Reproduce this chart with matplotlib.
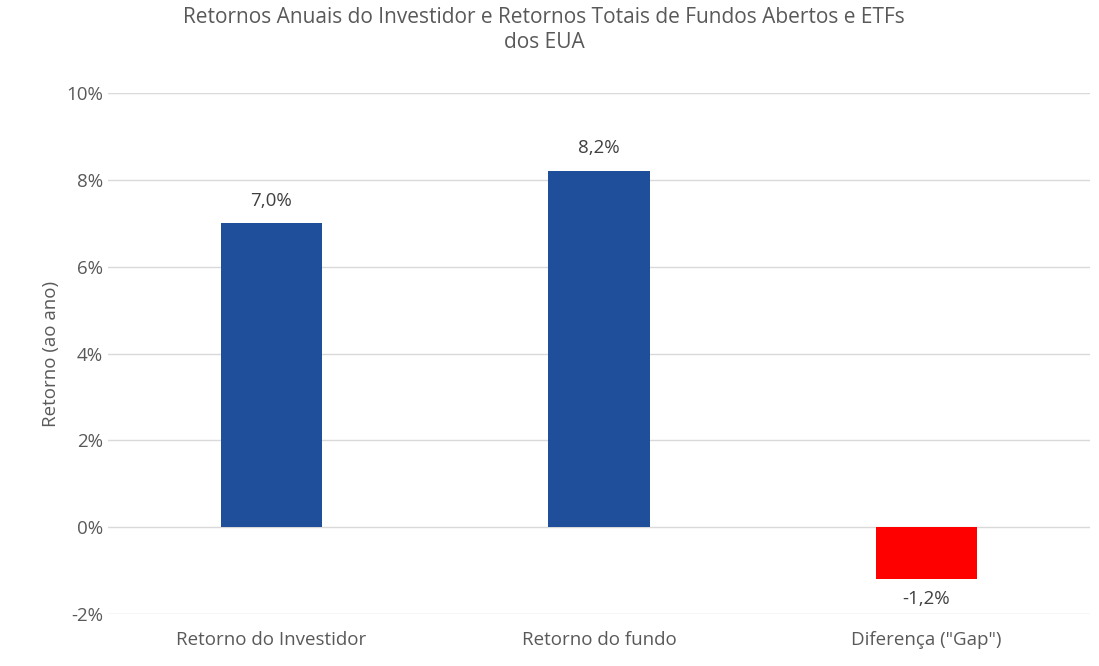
import matplotlib.pyplot as plt

categories = ['Retorno do Investidor', 'Retorno do fundo', 'Diferença ("Gap")']
values = [7.0, 8.2, -1.2]
colors = ['#1F4E9B', '#1F4E9B', '#FF0000']
yticks = [-2, 0, 2, 4, 6, 8, 10]

plt.rcParams['font.family'] = ['Open Sans', 'DejaVu Sans']
txt = '#595959'

fig = plt.figure(figsize=(10.99, 6.66), dpi=100)
ax = fig.add_axes([0.098, 0.078, 0.894, 0.782])
x = range(len(categories))
bars = ax.bar(x, values, width=0.31, color=colors, zorder=3)
for b, v in zip(bars, values):
    lab = f'{v:.1f}%'.replace('.', ',')
    if v >= 0:
        ax.annotate(lab, (b.get_x() + b.get_width() / 2, v), xytext=(0, 10),
                    textcoords='offset points', ha='center', va='bottom', fontsize=13.5, color='#404040')
    else:
        ax.annotate(lab, (b.get_x() + b.get_width() / 2, v), xytext=(0, -8),
                    textcoords='offset points', ha='center', va='top', fontsize=13.5, color='#404040')

ax.set_xlim(-0.5, 2.5)
ax.set_ylim(-2, 10)
ax.set_yticks(yticks)
ax.set_yticklabels([f'{t}%' for t in yticks])
ax.set_xticks(list(x))
ax.set_xticklabels(categories)
ax.tick_params(length=0, labelsize=13.5, colors=txt)
ax.tick_params(axis='x', pad=12)
ax.grid(axis='y', color='#D9D9D9', linewidth=1, zorder=0)
for s in ax.spines.values():
    s.set_visible(False)
ax.set_ylabel('Retorno (ao ano)', fontsize=13.5, color=txt)
fig.text(0.495, 0.955, 'Retornos Anuais do Investidor e Retornos Totais de Fundos Abertos e ETFs\ndos EUA',
         ha='center', va='center', fontsize=15, color=txt, linespacing=1.3)
fig.savefig('out.png', dpi=100)
